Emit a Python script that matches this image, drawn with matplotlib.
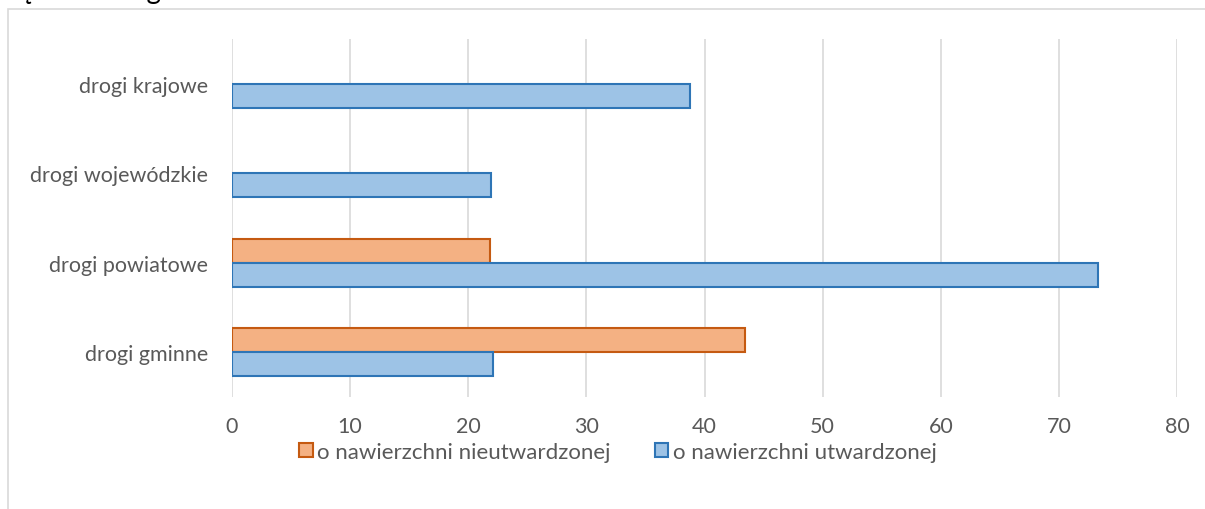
import matplotlib
matplotlib.use("Agg")
import matplotlib.pyplot as plt
from matplotlib.patches import Rectangle
import numpy as np

plt.rcParams['font.family'] = ['Lato', 'DejaVu Sans']

categories = ["drogi gminne", "drogi powiatowe", "drogi wojewódzkie", "drogi krajowe"]
nieutwardzona = [43.4, 21.8, 0, 0]
utwardzona = [22.1, 73.3, 21.9, 38.8]
series_names = ["o nawierzchni nieutwardzonej", "o nawierzchni utwardzonej"]
xticks = [0, 10, 20, 30, 40, 50, 60, 70, 80]

W, H = 1205, 510
fig = plt.figure(figsize=(W / 100, H / 100), dpi=100)

# outer chart border
fig.patches.append(Rectangle((8 / W, -0.1), 1.2, 1 - 10 / H + 0.1, transform=fig.transFigure,
                             fill=False, edgecolor="#D9D9D9", linewidth=1.2))
# clipped title at the top (only its lower part visible, as in the reference)
fig.text(0 / W, 1 + 1.5 / H, "Gęstość dróg", fontsize=20, color="#000000", va="baseline", ha="left")

ax = fig.add_axes([232 / W, 1 - 398 / H, (1177 - 232) / W, (398 - 40) / H])
y = np.arange(len(categories))
h = 0.27
orange_fc, orange_ec = "#F4B183", "#C55A11"
blue_fc, blue_ec = "#9DC3E6", "#2E75B6"
ob = ax.barh(y + h / 2, nieutwardzona, height=h, color=orange_fc, edgecolor=orange_ec, linewidth=1.5,
             label=series_names[0], zorder=3)
for bar, v in zip(ob, nieutwardzona):
    if v == 0:
        bar.set_visible(False)
ax.barh(y - h / 2, utwardzona, height=h, color=blue_fc, edgecolor=blue_ec, linewidth=1.5,
        label=series_names[1], zorder=3)

ax.set_xlim(0, 80)
ax.set_ylim(-0.5, len(categories) - 0.5)
ax.set_xticks(xticks)
ax.set_xticklabels([str(v) for v in xticks])
ax.set_yticks(y)
ax.set_yticklabels(categories)
ax.grid(axis="x", color="#D9D9D9", linewidth=1.2, zorder=0)
for s in ax.spines.values():
    s.set_visible(False)
ax.tick_params(axis="both", length=0, labelsize=15.5, colors="#595959")
ax.tick_params(axis="x", pad=14)
ax.tick_params(axis="y", pad=17)

leg = fig.legend(loc="center", bbox_to_anchor=(618 / W, 1 - 453 / H), ncol=2, frameon=False,
                 fontsize=16, handlelength=0.6, handleheight=0.6, handletextpad=0.2,
                 columnspacing=2.0, labelcolor="#595959")

fig.savefig("out.png", dpi=100)
